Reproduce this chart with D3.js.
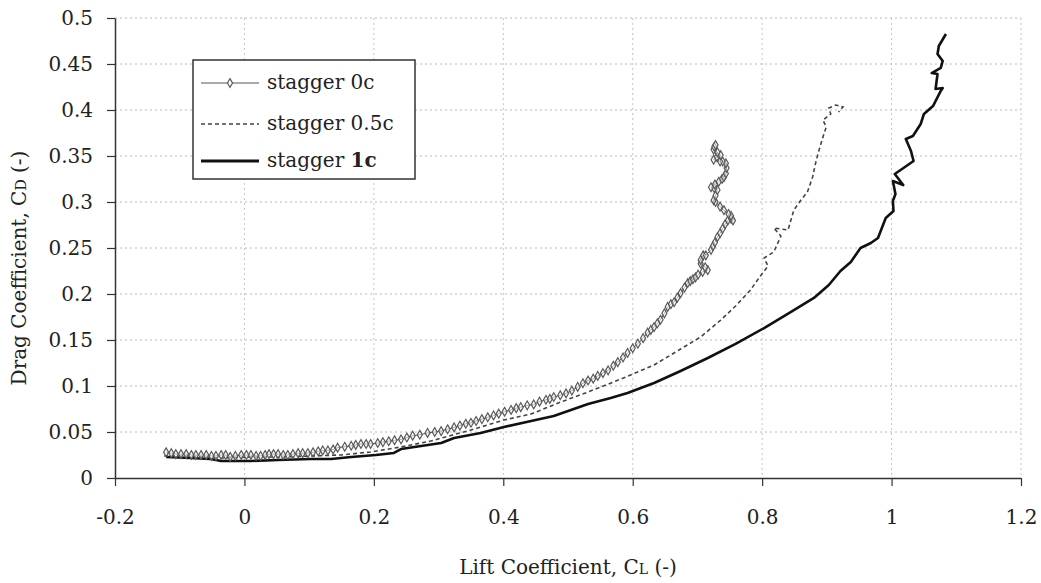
<!DOCTYPE html>
<html>
<head>
<meta charset="utf-8">
<script src="https://cdn.jsdelivr.net/npm/d3@7"></script>
<style>
  body { margin: 0; background: #fff; }
  svg text { font-family: "DejaVu Serif", "Liberation Serif", serif; fill: #222; }
</style>
</head>
<body>
<div id="chart"></div>
<script>
// tick values / labels
const xTicks = [-0.2, 0, 0.2, 0.4, 0.6, 0.8, 1, 1.2]
const xTickLabels = ["-0.2", "0", "0.2", "0.4", "0.6", "0.8", "1", "1.2"]
const yTicks = [0, 0.05, 0.1, 0.15, 0.2, 0.25, 0.3, 0.35, 0.4, 0.45, 0.5]
const yTickLabels = ["0", "0.05", "0.1", "0.15", "0.2", "0.25", "0.3", "0.35", "0.4", "0.45", "0.5"]

const seriesNames = ["stagger 0c", "stagger 0.5c", "stagger 1c"]

// stagger 0c  (CL, CD)
const cl0 = [-0.121, -0.113, -0.106, -0.098, -0.090, -0.082, -0.075, -0.067, -0.059, -0.051, -0.044, -0.036, -0.029, -0.022, -0.014, -0.005, 0.003, 0.010, 0.018, 0.025, 0.032, 0.038, 0.045, 0.052, 0.060, 0.067, 0.075, 0.083, 0.090, 0.098, 0.106, 0.114, 0.121, 0.129, 0.137, 0.144, 0.155, 0.165, 0.172, 0.180, 0.188, 0.195, 0.206, 0.214, 0.223, 0.232, 0.242, 0.251, 0.260, 0.271, 0.283, 0.294, 0.304, 0.314, 0.324, 0.333, 0.342, 0.350, 0.358, 0.367, 0.376, 0.385, 0.393, 0.402, 0.412, 0.420, 0.427, 0.437, 0.447, 0.456, 0.466, 0.472, 0.478, 0.488, 0.497, 0.506, 0.515, 0.523, 0.531, 0.539, 0.546, 0.554, 0.562, 0.570, 0.577, 0.585, 0.592, 0.600, 0.608, 0.616, 0.623, 0.628, 0.633, 0.638, 0.643, 0.649, 0.654, 0.659, 0.664, 0.669, 0.674, 0.680, 0.685, 0.689, 0.693, 0.697, 0.701, 0.708, 0.716, 0.712, 0.705, 0.705, 0.709, 0.713, 0.721, 0.724, 0.727, 0.731, 0.735, 0.739, 0.743, 0.747, 0.752, 0.755, 0.752, 0.748, 0.741, 0.735, 0.728, 0.725, 0.728, 0.731, 0.726, 0.721, 0.727, 0.733, 0.738, 0.741, 0.744, 0.745, 0.744, 0.739, 0.735, 0.725, 0.730, 0.736, 0.731, 0.725, 0.726, 0.728]
const cd0 = [0.028, 0.027, 0.026, 0.026, 0.026, 0.025, 0.025, 0.025, 0.025, 0.024, 0.024, 0.025, 0.025, 0.023, 0.024, 0.025, 0.025, 0.025, 0.024, 0.024, 0.025, 0.026, 0.026, 0.026, 0.025, 0.025, 0.026, 0.027, 0.027, 0.027, 0.028, 0.029, 0.030, 0.030, 0.031, 0.033, 0.034, 0.035, 0.036, 0.037, 0.037, 0.037, 0.038, 0.039, 0.040, 0.041, 0.042, 0.044, 0.046, 0.047, 0.049, 0.050, 0.051, 0.053, 0.055, 0.057, 0.059, 0.060, 0.062, 0.064, 0.066, 0.068, 0.070, 0.072, 0.074, 0.076, 0.077, 0.079, 0.080, 0.083, 0.085, 0.086, 0.088, 0.090, 0.092, 0.095, 0.099, 0.103, 0.106, 0.108, 0.111, 0.114, 0.117, 0.122, 0.126, 0.131, 0.136, 0.141, 0.146, 0.152, 0.158, 0.161, 0.164, 0.168, 0.172, 0.179, 0.186, 0.189, 0.191, 0.196, 0.201, 0.207, 0.212, 0.214, 0.216, 0.218, 0.221, 0.224, 0.226, 0.229, 0.233, 0.237, 0.242, 0.242, 0.248, 0.252, 0.256, 0.262, 0.266, 0.271, 0.276, 0.280, 0.282, 0.280, 0.285, 0.287, 0.291, 0.295, 0.300, 0.302, 0.307, 0.313, 0.315, 0.316, 0.319, 0.322, 0.325, 0.327, 0.331, 0.337, 0.342, 0.344, 0.344, 0.346, 0.349, 0.351, 0.354, 0.357, 0.360, 0.362]

// stagger 0.5c
const cl05 = [-0.124, -0.083, -0.036, 0.010, 0.056, 0.103, 0.149, 0.195, 0.242, 0.288, 0.350, 0.401, 0.443, 0.489, 0.531, 0.582, 0.633, 0.674, 0.705, 0.736, 0.759, 0.782, 0.795, 0.809, 0.803, 0.818, 0.829, 0.818, 0.840, 0.849, 0.860, 0.870, 0.878, 0.883, 0.888, 0.894, 0.899, 0.894, 0.906, 0.903, 0.914, 0.925, 0.918]
const cd05 = [0.0239, 0.0239, 0.0217, 0.0228, 0.0228, 0.0239, 0.025, 0.0283, 0.0337, 0.0402, 0.0522, 0.063, 0.0696, 0.0826, 0.0935, 0.1076, 0.1228, 0.1402, 0.1533, 0.1717, 0.187, 0.2043, 0.2174, 0.2304, 0.2391, 0.2457, 0.263, 0.2717, 0.2696, 0.2913, 0.3022, 0.3109, 0.3272, 0.3435, 0.3565, 0.3707, 0.3815, 0.3891, 0.3957, 0.4022, 0.4054, 0.4033, 0.3978]

// stagger 1c
const cl1 = [-0.121, -0.083, -0.052, -0.036, 0.010, 0.052, 0.103, 0.134, 0.165, 0.203, 0.231, 0.242, 0.273, 0.304, 0.324, 0.365, 0.401, 0.443, 0.478, 0.531, 0.566, 0.592, 0.633, 0.674, 0.716, 0.759, 0.803, 0.844, 0.880, 0.903, 0.921, 0.937, 0.952, 0.968, 0.979, 0.991, 1.003, 1.002, 1.006, 1.002, 1.018, 1.005, 1.034, 1.030, 1.022, 1.033, 1.045, 1.050, 1.064, 1.076, 1.079, 1.068, 1.071, 1.062, 1.076, 1.079, 1.071, 1.073, 1.084]
const cd1 = [0.0228, 0.0217, 0.0207, 0.0185, 0.0185, 0.0196, 0.0207, 0.0207, 0.0228, 0.025, 0.0272, 0.0315, 0.0348, 0.038, 0.0435, 0.0489, 0.0554, 0.062, 0.0674, 0.0804, 0.087, 0.0924, 0.1033, 0.1163, 0.1304, 0.1457, 0.163, 0.1804, 0.1957, 0.2098, 0.225, 0.2348, 0.25, 0.2554, 0.2609, 0.2826, 0.2902, 0.3011, 0.3087, 0.3228, 0.3184, 0.3304, 0.3446, 0.3554, 0.3685, 0.3717, 0.3848, 0.3957, 0.4043, 0.4207, 0.4239, 0.4228, 0.4391, 0.4402, 0.4457, 0.4533, 0.4609, 0.4696, 0.4826]

const width = 1041
const height = 583
const plotLeft = 115, plotRight = 1021, plotTop = 18, plotBottom = 478

let svg = d3.select("#chart")
            .append("svg")
            .attr("width", width)
            .attr("height", height)

let xScale = d3.scaleLinear().domain([-0.2, 1.2]).range([plotLeft, plotRight])
let yScale = d3.scaleLinear().domain([0, 0.5]).range([plotBottom, plotTop])

//grid lines
svg.append("g")
   .selectAll("line")
   .data(yTicks.filter(d => d > 0))
   .enter().append("line")
   .attr("x1", plotLeft).attr("x2", plotRight)
   .attr("y1", d => yScale(d)).attr("y2", d => yScale(d))
   .attr("stroke", "#b8b8b8")
   .attr("stroke-dasharray", "2,3")
svg.append("g")
   .selectAll("line")
   .data(xTicks.filter(d => d > -0.2))
   .enter().append("line")
   .attr("x1", d => xScale(d)).attr("x2", d => xScale(d))
   .attr("y1", plotTop).attr("y2", plotBottom)
   .attr("stroke", "#c4c4c4")
   .attr("stroke-dasharray", "2,3")

//axes
let xAxis = d3.axisBottom(xScale)
              .tickValues(xTicks)
              .tickFormat((d, i) => xTickLabels[i])
              .tickSize(8)
              .tickSizeOuter(0)
              .tickPadding(24)
let yAxis = d3.axisLeft(yScale)
              .tickValues(yTicks)
              .tickFormat((d, i) => yTickLabels[i])
              .tickSize(8)
              .tickSizeOuter(0)
              .tickPadding(14)

let gx = svg.append("g")
   .attr("transform", "translate(0," + plotBottom + ")")
   .call(xAxis)
let gy = svg.append("g")
   .attr("transform", "translate(" + plotLeft + ",0)")
   .call(yAxis)
;[gx, gy].forEach(g => {
  g.select(".domain").attr("stroke", "#333").attr("stroke-width", 1.5)
  g.selectAll(".tick line").attr("stroke", "#333").attr("stroke-width", 1.2)
  g.selectAll(".tick text")
   .style("font-family", "'DejaVu Serif', serif")
   .style("font-size", "20px")
   .attr("fill", "#222")
})

//axis titles
let xt = svg.append("text")
   .attr("x", (plotLeft + plotRight) / 2)
   .attr("y", 574)
   .attr("text-anchor", "middle")
   .style("font-size", "20px")
xt.append("tspan").text("Lift Coefficient, C")
xt.append("tspan").text("L").style("font-size", "14px")
xt.append("tspan").text(" (-)")

let yt = svg.append("text")
   .attr("transform", "translate(26," + 268 + ") rotate(-90)")
   .attr("text-anchor", "middle")
   .style("font-size", "20px")
yt.append("tspan").text("Drag Coefficient, C")
yt.append("tspan").text("D").style("font-size", "14px")
yt.append("tspan").text(" (-)")

//series
function pts(xs, ys) {
  return xs.map((x, i) => [x, ys[i]])
}
let line = d3.line()
             .x(d => xScale(d[0]))
             .y(d => yScale(d[1]))

let data0 = pts(cl0, cd0)
let data05 = pts(cl05, cd05)
let data1 = pts(cl1, cd1)

svg.append("path")
   .datum(data1)
   .attr("d", line)
   .attr("fill", "none")
   .attr("stroke", "#111")
   .attr("stroke-width", 2.6)
   .attr("stroke-linejoin", "round")

svg.append("path")
   .datum(data05)
   .attr("d", line)
   .attr("fill", "none")
   .attr("stroke", "#444")
   .attr("stroke-width", 1.6)
   .attr("stroke-dasharray", "4,3")

svg.append("path")
   .datum(data0)
   .attr("d", line)
   .attr("fill", "none")
   .attr("stroke", "#555")
   .attr("stroke-width", 1)

let diamond = d3.symbol().type(d3.symbolDiamond).size(22)
svg.append("g")
   .selectAll("path")
   .data(data0)
   .enter().append("path")
   .attr("d", diamond)
   .attr("transform", d => "translate(" + xScale(d[0]) + "," + yScale(d[1]) + ")")
   .attr("fill", "#fff")
   .attr("fill-opacity", 0.5)
   .attr("stroke", "#5a5a5a")
   .attr("stroke-width", 1.2)

//legend
let legend = svg.append("g")
legend.append("rect")
      .attr("x", 193).attr("y", 60)
      .attr("width", 222).attr("height", 119)
      .attr("fill", "#fff")
      .attr("stroke", "#333")
      .attr("stroke-width", 1.5)

let rows = [83, 124, 161]
let styles = [
  {stroke: "#555", w: 1, dash: null},
  {stroke: "#444", w: 1.6, dash: "4,3"},
  {stroke: "#111", w: 3, dash: null}
]
seriesNames.forEach(function(name, i) {
  legend.append("line")
        .attr("x1", 201).attr("x2", 259)
        .attr("y1", rows[i]).attr("y2", rows[i])
        .attr("stroke", styles[i].stroke)
        .attr("stroke-width", styles[i].w)
        .attr("stroke-dasharray", styles[i].dash)
  let t = legend.append("text")
        .attr("x", 267)
        .attr("y", rows[i] + 6)
        .style("font-size", "20px")
  if (i == 2) {
    t.append("tspan").text("stagger ")
    t.append("tspan").text("1c").style("font-weight", "bold")
  } else {
    t.text(name)
  }
})
legend.append("path")
      .attr("d", diamond)
      .attr("transform", "translate(230," + rows[0] + ")")
      .attr("fill", "#fff")
      .attr("stroke", "#5a5a5a")
      .attr("stroke-width", 1.2)
</script>
</body>
</html>
